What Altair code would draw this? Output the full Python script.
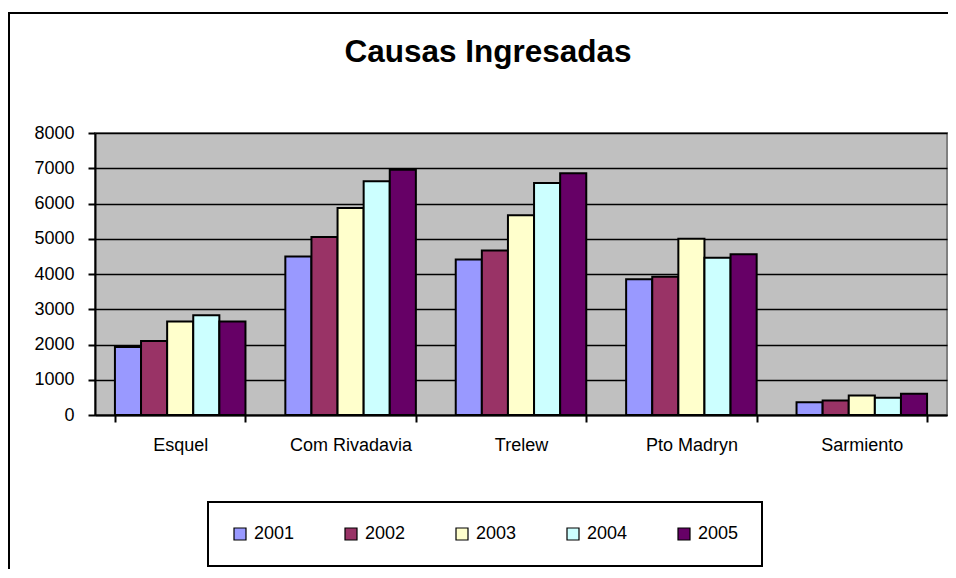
import altair as alt
import pandas as pd

categories = ["Esquel", "Com Rivadavia", "Trelew", "Pto Madryn", "Sarmiento"]
years = ["2001", "2002", "2003", "2004", "2005"]
v2001 = [1930, 4500, 4410, 3850, 360]
v2002 = [2100, 5050, 4670, 3920, 410]
v2003 = [2650, 5870, 5670, 5000, 550]
v2004 = [2830, 6630, 6580, 4460, 490]
v2005 = [2650, 6960, 6860, 4560, 600]
colors = ["#9999FF", "#993366", "#FFFFCC", "#CCFFFF", "#660066"]
y_ticks = [0, 1000, 2000, 3000, 4000, 5000, 6000, 7000, 8000]
title_text = "Causas Ingresadas"

rows = []
for yr, vals in zip(years, [v2001, v2002, v2003, v2004, v2005]):
    for c, v in zip(categories, vals):
        rows.append({"category": c, "year": yr, "value": v})
df = pd.DataFrame(rows)

FONT = "Liberation Sans"

bars = alt.Chart(df).mark_bar(stroke="black", strokeWidth=2).encode(
    x=alt.X("category:N", sort=categories, title=None,
            scale=alt.Scale(paddingInner=0.234, paddingOuter=0.117),
            axis=alt.Axis(labelAngle=0, tickBand="extent", domainColor="black",
                          domainWidth=2, tickColor="black", tickWidth=2, tickSize=7,
                          labelFont=FONT, labelFontSize=18, labelColor="black",
                          labelPadding=14, grid=False)),
    xOffset=alt.XOffset("year:N", sort=years, scale=alt.Scale(paddingInner=0, paddingOuter=0)),
    y=alt.Y("value:Q", title=None,
            scale=alt.Scale(domain=[0, 8000], nice=False),
            axis=alt.Axis(values=y_ticks, format="d", domainColor="black", domainWidth=2,
                          tickColor="black", tickWidth=2, tickSize=7,
                          labelFont=FONT, labelFontSize=18, labelColor="black",
                          labelPadding=14, grid=True, gridColor="black",
                          gridWidth=1.5)),
    fill=alt.Fill("year:N", sort=years,
                  scale=alt.Scale(domain=years, range=colors),
                  legend=alt.Legend(title=None, orient="none", direction="horizontal",
                                    legendX=113, legendY=369, padding=23,
                                    symbolType="square", symbolSize=144,
                                    symbolStrokeColor="black", symbolStrokeWidth=1.2,
                                    labelFont=FONT, labelFontSize=18, labelColor="black",
                                    labelOffset=5, columnPadding=47,
                                    strokeColor="black")),
)

frame = alt.Chart(alt.Data(values=[{}])).mark_rect(
    fill=None, stroke="black", strokeWidth=2
).encode(
    x=alt.value(-86), x2=alt.value(900), y=alt.value(-120), y2=alt.value(470)
)

title = alt.Chart(alt.Data(values=[{"t": title_text}])).mark_text(
    font=FONT, fontSize=31.5, fontWeight="bold", color="black",
    align="center", baseline="alphabetic"
).encode(
    text="t:N", x=alt.value(393), y=alt.value(-71)
)

chart = alt.layer(frame, bars, title).properties(
    width=852, height=282,
    autosize=alt.AutoSizeParams(type="none"),
    padding={"left": 87, "top": 125, "right": 1, "bottom": 154},
    background="white",
).configure_view(
    fill="#C0C0C0", stroke="#808080", strokeWidth=2
).configure_legend(strokeWidth=2)

chart.save("out.html", embed_options={"renderer": "svg", "actions": False})
